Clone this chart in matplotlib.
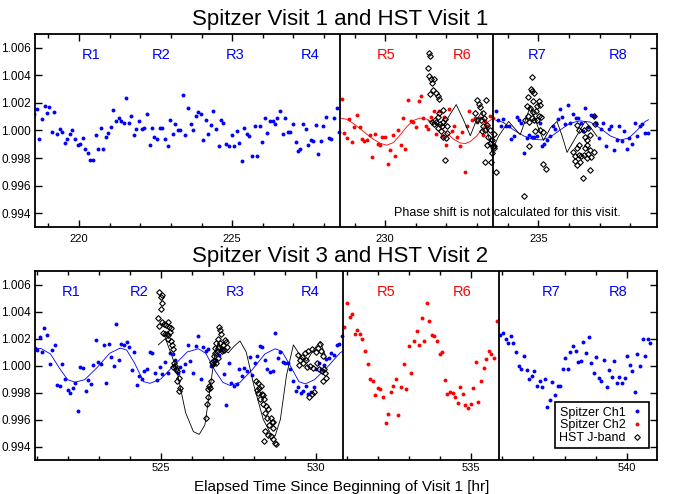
import numpy as np
import matplotlib.pyplot as plt
from matplotlib.ticker import MultipleLocator, FormatStrFormatter

plt.rcParams['font.family'] = ['Liberation Sans', 'DejaVu Sans']

# ---- Spitzer Visit 1 / HST Visit 1 ----
v1_ch1a_t = [218.54, 218.61, 218.69, 218.78, 218.87, 218.95, 219.03, 219.12, 219.19, 219.28,
             219.37, 219.45, 219.54, 219.62, 219.70, 219.78, 219.87, 219.95, 220.04, 220.12,
             220.20, 220.29, 220.37, 220.46, 220.54, 220.62, 220.71, 220.79, 220.87, 220.96,
             221.04, 221.12, 221.21, 221.29, 221.37, 221.46, 221.54, 221.62, 221.71, 221.79,
             221.87, 221.96, 222.05, 222.12, 222.21, 222.30, 222.38, 222.46, 222.55, 222.63,
             222.72, 222.80, 222.89, 222.97, 223.06, 223.14, 223.22, 223.31, 223.39, 223.47,
             223.56, 223.64, 223.72, 223.81, 223.90, 223.97, 224.06, 224.14, 224.22, 224.31,
             224.39, 224.47, 224.56, 224.64, 224.71, 224.81, 224.90, 224.98, 225.06, 225.15,
             225.23, 225.31, 225.40, 225.48, 225.56, 225.65, 225.73, 225.82, 225.90, 225.98,
             226.07, 226.15, 226.23, 226.32, 226.40, 226.48, 226.57, 226.65, 226.73, 226.82,
             226.90, 226.98, 227.07, 227.15, 227.23, 227.32, 227.40, 227.48, 227.57, 227.65,
             227.74, 227.82, 227.90, 227.98, 228.07, 228.16, 228.23, 228.32, 228.41, 228.48]
v1_ch1a_f = [1.00119, 1.00155, 0.99939, 1.00082, 1.00177, 1.00124, 1.00172, 0.99988, 1.00136, 0.99976,
             1.00012, 0.99988, 0.99908, 0.99937, 0.99978, 1.00005, 0.99935, 0.99893, 0.99903, 0.99944,
             0.99869, 0.99835, 0.99787, 0.99789, 0.99964, 0.99867, 1.00019, 0.99867, 0.99952, 0.99983,
             1.00027, 1.00148, 1.00070, 1.00092, 1.00068, 1.00053, 1.00235, 1.00051, 1.00104, 0.99966,
             1.00010, 1.00070, 1.00012, 1.00015, 1.00119, 0.99896, 1.00019, 0.99952, 0.99939, 1.00019,
             1.00019, 0.99937, 0.99886, 1.00078, 0.99973, 1.00046, 1.00005, 1.00005, 1.00255, 0.99966,
             1.00160, 1.00044, 1.00005, 1.00102, 1.00131, 1.00119, 0.99932, 1.00078, 0.99973, 1.00041,
             1.00138, 1.00012, 0.99884, 1.00075, 1.00051, 0.99905, 0.99886, 0.99966, 0.99886, 0.99993,
             0.99910, 0.99782, 1.00017, 0.99973, 0.99959, 0.99818, 1.00032, 0.99818, 1.00032, 0.99913,
             1.00090, 0.99985, 1.00068, 1.00068, 1.00046, 1.00092, 1.00145, 0.99971, 1.00090, 0.99990,
             0.99990, 1.00048, 0.99913, 0.99850, 0.99864, 1.00046, 1.00012, 0.99898, 0.99930, 0.99922,
             1.00041, 0.99830, 0.99927, 1.00032, 1.00095, 0.99944, 0.99939, 1.00092, 1.00165, 0.99988]

v1_ch2_t = [228.58, 228.66, 228.74, 228.82, 228.91, 228.99, 229.07, 229.16, 229.25, 229.32,
            229.41, 229.50, 229.57, 229.66, 229.75, 229.83, 229.91, 230.00, 230.08, 230.16,
            230.25, 230.32, 230.41, 230.50, 230.57, 230.66, 230.75, 230.83, 230.91, 231.00,
            231.09, 231.16, 231.25, 231.34, 231.41, 231.50, 231.59, 231.66, 231.75, 231.84,
            231.91, 232.00, 232.09, 232.17, 232.25, 232.34, 232.43, 232.50, 232.59, 232.68,
            232.75, 232.84, 232.93, 233.00, 233.09, 233.18, 233.25, 233.34, 233.43, 233.51]
v1_ch2_f = [1.00228, 0.99981, 0.99942, 1.00082, 0.99913, 1.00024, 1.00109, 1.00024, 0.99935, 0.99922,
            0.99930, 0.99964, 0.99806, 0.99976, 0.99901, 0.99893, 0.99952, 0.99956, 0.99760, 0.99859,
            0.99966, 0.99816, 1.00002, 0.99898, 1.00087, 0.99867, 1.00218, 1.00068, 1.00065, 1.00024,
            1.00216, 1.00247, 1.00090, 1.00029, 1.00012, 1.00099, 1.00145, 0.99976, 1.00138, 0.99961,
            1.00099, 0.99898, 1.00158, 0.99998, 1.00029, 0.99952, 0.99884, 0.99990, 0.99702, 1.00032,
            1.00143, 1.00078, 1.00092, 1.00063, 1.00087, 0.99964, 1.00070, 1.00029, 1.00107, 1.00090]

v1_ch1b_t = [233.61, 233.70, 233.79, 233.86, 233.95, 234.04, 234.12, 234.20, 234.29, 234.37,
             234.45, 234.54, 234.62, 234.70, 234.79, 234.87, 234.95, 235.04, 235.13, 235.20,
             235.29, 235.38, 235.47, 235.54, 235.63, 235.72, 235.79, 235.88, 235.97, 236.04,
             236.13, 236.22, 236.29, 236.38, 236.47, 236.54, 236.63, 236.72, 236.81, 236.88,
             236.97, 237.06, 237.13, 237.22, 237.31, 237.39, 237.47, 237.56, 237.64, 237.73,
             237.81, 237.89, 237.98, 238.07, 238.15, 238.23, 238.32, 238.40, 238.48, 238.57]
v1_ch1b_f = [1.00143, 1.00078, 1.00036, 1.00082, 1.00029, 1.00036, 0.99939, 0.99961, 1.00095, 1.00073,
             1.00056, 0.99838, 0.99947, 0.99968, 0.99956, 0.99956, 0.99961, 1.00053, 0.99884, 0.99903,
             0.99932, 0.99961, 1.00034, 1.00012, 1.00082, 1.00153, 1.00097, 1.00046, 1.00184, 1.00051,
             1.00121, 1.00090, 1.00090, 1.00053, 0.99993, 1.00160, 1.00022, 1.00109, 1.00107, 1.00053,
             0.99944, 1.00012, 1.00053, 0.99888, 1.00012, 1.00029, 0.99859, 0.99932, 1.00036, 0.99927,
             0.99998, 0.99869, 0.99949, 0.99901, 1.00053, 0.99961, 1.00029, 1.00048, 0.99981, 0.99981]

v1_hst_t = [231.39, 231.44, 231.47, 231.42, 231.49, 231.60, 231.52, 231.56, 231.45, 231.66,
            231.72, 231.76, 231.52, 231.61, 231.66, 231.71, 231.75, 231.79, 231.86, 231.90,
            231.96, 231.83, 231.90, 231.99, 231.95, 232.03, 231.58, 231.74, 231.88, 232.01,
            232.99, 233.05, 233.08, 233.29, 232.94, 233.12, 233.21, 233.27, 233.32, 232.99,
            233.16, 233.37, 233.43, 233.48, 233.54, 233.32, 233.48, 233.27, 233.45, 233.61,
            233.54, 233.41, 233.52, 233.56, 233.19, 233.23,
            234.81, 234.76, 234.81, 234.87, 234.67, 234.84, 235.01, 235.04, 234.95, 234.63,
            234.74, 234.82, 234.91, 234.66, 234.79, 235.01, 235.08, 234.95, 234.87, 234.71,
            234.90, 235.04, 235.17, 234.69, 235.17, 235.24, 234.52, 234.57,
            236.26, 236.32, 236.50, 236.64, 236.81, 236.84, 236.53, 236.59, 236.70, 236.59,
            236.51, 236.70, 236.81, 236.32, 236.26, 236.21, 236.32, 236.39, 236.50, 236.61,
            236.26, 236.21, 236.37, 236.72, 236.59, 236.45, 236.70, 236.15]
v1_hst_f = [1.00453, 1.00565, 1.00543, 1.00398, 1.00373, 1.00373, 1.00344, 1.00296, 1.00264, 1.00271,
            1.00247, 1.00230, 1.00065, 1.00078, 1.00058, 1.00097, 1.00126, 1.00048, 1.00029, 1.00150,
            1.00082, 0.99993, 0.99956, 0.99944, 0.99787, 1.00029, 1.00048, 1.00017, 1.00065, 0.99981,
            1.00218, 1.00194, 1.00170, 1.00223, 1.00126, 1.00078, 1.00029, 1.00005, 1.00041, 1.00078,
            0.99993, 0.99956, 0.99908, 0.99932, 0.99884, 0.99896, 0.99835, 0.99775, 0.99775, 0.99702,
            0.99976, 1.00005, 0.99888, 0.99872, 1.00126, 1.00090,
            1.00385, 1.00303, 1.00288, 1.00271, 1.00240, 1.00216, 1.00211, 1.00187, 1.00179, 1.00175,
            1.00162, 1.00133, 1.00138, 1.00102, 1.00090, 1.00107, 1.00095, 1.00078, 1.00078, 1.00065,
            0.99993, 1.00005, 0.99990, 0.99888, 0.99758, 0.99719, 0.99527, 1.00078,
            1.00041, 1.00005, 1.00005, 1.00017, 1.00107, 1.00046, 0.99956, 0.99932, 0.99968, 0.99896,
            0.99872, 0.99859, 0.99847, 0.99896, 0.99872, 0.99816, 0.99823, 0.99816, 0.99823, 0.99830,
            0.99750, 0.99782, 0.99775, 0.99811, 0.99799, 0.99658, 0.99714, 0.99847]

# model curves, visit 1
v1_ch2_model_t = [228.50, 228.74, 229.02, 229.29, 229.56, 229.83, 230.05, 230.27, 230.49, 230.71,
                  230.92, 231.14, 231.36, 231.58, 231.79, 232.01, 232.23, 232.45, 232.61, 232.78,
                  232.99, 233.21, 233.37, 233.52]
v1_ch2_model_f = [1.00090, 1.00082, 1.00041, 0.99993, 0.99944, 0.99908, 0.99893, 0.99913, 0.99968, 1.00029,
                  1.00073, 1.00090, 1.00082, 1.00058, 1.00024, 0.99981, 0.99937, 0.99910, 0.99905, 0.99920,
                  0.99960, 1.00024, 1.00065, 1.00087]
v1_ch1_model_t = [233.61, 233.86, 234.19, 234.52, 234.84, 235.12, 235.39, 235.72, 236.04, 236.37,
                  236.70, 237.02, 237.35, 237.68, 237.95, 238.22, 238.49, 238.60]
v1_ch1_model_f = [1.00075, 1.00058, 1.00005, 0.99961, 0.99935, 0.99932, 0.99952, 1.00005, 1.00053, 1.00070,
                  1.00061, 1.00017, 0.99961, 0.99932, 0.99944, 1.00000, 1.00065, 1.00078]
v1_hst_model_t = [231.40, 231.65, 231.90, 232.10, 232.32, 232.55, 232.78, 232.97, 233.16, 233.32,
                  233.48, 233.70, 234.03, 234.41, 234.74, 235.00, 235.17, 235.40, 235.61, 235.78,
                  235.94, 236.25, 236.53, 236.75, 236.92]
v1_hst_model_f = [1.00070, 1.00050, 1.00035, 1.00110, 1.00188, 1.00080, 0.99962, 1.00070, 1.00139, 1.00010,
                  0.99848, 0.99957, 1.00066, 0.99969, 1.00175, 1.00020, 0.99928, 1.00020, 1.00066, 0.99960,
                  0.99841, 0.99960, 1.00066, 1.00010, 0.99957]

# ---- Spitzer Visit 3 / HST Visit 2 ----
v3_ch1a_t = [520.95, 521.01, 521.10, 521.16, 521.25, 521.34, 521.42, 521.50, 521.58, 521.66,
             521.74, 521.83, 521.92, 522.00, 522.08, 522.16, 522.25, 522.32, 522.41, 522.50,
             522.58, 522.66, 522.74, 522.83, 522.91, 522.99, 523.07, 523.16, 523.24, 523.32,
             523.41, 523.48, 523.57, 523.65, 523.73, 523.82, 523.90, 523.98, 524.06, 524.15,
             524.22, 524.31, 524.39, 524.47, 524.56, 524.64, 524.72, 524.80, 524.89, 524.96,
             525.05, 525.14, 525.22, 525.30, 525.38, 525.46, 525.54, 525.63, 525.71, 525.79,
             525.88, 525.95, 526.04, 526.12, 526.20, 526.28, 526.37, 526.44, 526.53, 526.62,
             526.70, 526.78, 526.86, 526.95, 527.02, 527.11, 527.20, 527.27, 527.36, 527.44,
             527.53, 527.60, 527.69, 527.78, 527.86, 527.94, 528.02, 528.10, 528.18, 528.27,
             528.35, 528.43, 528.52, 528.60, 528.68, 528.76, 528.84, 528.92, 529.01, 529.10,
             529.17, 529.26, 529.34, 529.43, 529.50, 529.59, 529.68, 529.75, 529.84, 529.92,
             530.00, 530.08, 530.17, 530.24, 530.33, 530.42, 530.49, 530.58, 530.66, 530.75,
             530.83]
v3_ch1a_f = [1.00128, 1.00116, 1.00208, 1.00097, 1.00275, 1.00225, 1.00010, 1.00116, 1.00155, 0.99855,
             0.99845, 1.00012, 0.99899, 0.99821, 0.99795, 0.99833, 0.99874, 0.99664, 0.99988, 0.99981,
             0.99814, 0.99891, 0.99865, 1.00005, 1.00186, 1.00024, 1.00014, 1.00152, 0.99870, 1.00159,
             1.00063, 0.99993, 1.00304, 1.00039, 1.00159, 1.00152, 1.00176, 1.00138, 0.99966, 1.00097,
             0.99855, 0.99923, 0.99901, 0.99959, 0.99971, 1.00099, 1.00092, 0.99947, 0.99891, 0.99986,
             0.99940, 1.00029, 0.99942, 1.00092, 1.00087, 1.00039, 0.99947, 0.99988, 0.99959, 1.00012,
             1.00152, 1.00036, 0.99947, 1.00147, 1.00222, 0.99901, 1.00140, 1.00109, 1.00121, 0.99995,
             1.00012, 1.00043, 1.00080, 1.00121, 0.99935, 0.99710, 1.00022, 0.99867, 0.99850, 0.99862,
             0.99971, 0.99923, 0.99983, 0.99959, 1.00063, 0.99930, 1.00019, 1.00068, 1.00145, 1.00140,
             1.00043, 0.99971, 0.99954, 0.99959, 1.00239, 1.00058, 1.00097, 1.00029, 1.00019, 1.00019,
             0.99971, 0.99886, 0.99809, 0.99838, 0.99795, 0.99814, 0.99850, 0.99790, 0.99802, 0.99838,
             0.99971, 1.00019, 0.99971, 1.00007, 1.00048, 1.00056, 1.00092, 1.00077, 1.00152, 1.00162,
             1.00217]

v3_ch2_t = [530.91, 530.99, 531.08, 531.16, 531.24, 531.33, 531.41, 531.49, 531.58, 531.66,
            531.74, 531.82, 531.91, 531.98, 532.07, 532.16, 532.24, 532.32, 532.40, 532.49,
            532.57, 532.65, 532.74, 532.82, 532.91, 532.98, 533.07, 533.15, 533.24, 533.33,
            533.40, 533.49, 533.57, 533.65, 533.73, 533.81, 533.89, 533.98, 534.07, 534.15,
            534.23, 534.31, 534.40, 534.47, 534.56, 534.65, 534.73, 534.81, 534.89, 534.98,
            535.06, 535.14, 535.23, 535.31, 535.40, 535.47, 535.56, 535.64, 535.73, 535.82]
v3_ch2_f = [1.00285, 1.00466, 1.00362, 1.00382, 1.00237, 1.00261, 1.00232, 1.00193, 1.00109, 1.00012,
            0.99899, 0.99886, 0.99778, 0.99831, 0.99826, 0.99766, 0.99577, 0.99640, 0.99802, 0.99850,
            0.99899, 0.99633, 0.99843, 1.00012, 0.99826, 1.00145, 0.99942, 1.00184, 1.00254, 1.00152,
            1.00353, 1.00184, 1.00461, 1.00326, 1.00225, 1.00217, 1.00181, 1.00087, 1.00097, 0.99889,
            0.99790, 0.99807, 0.99797, 0.99766, 0.99725, 0.99838, 0.99787, 0.99705, 0.99688, 0.99717,
            0.99831, 1.00024, 0.99730, 0.99884, 0.99978, 1.00051, 1.00111, 1.00085, 1.00056, 1.00333]

v3_ch1b_t = [535.92, 536.01, 536.10, 536.18, 536.27, 536.35, 536.44, 536.52, 536.61, 536.70,
             536.78, 536.87, 536.94, 537.03, 537.11, 537.20, 537.28, 537.36, 537.45, 537.52,
             537.61, 537.69, 537.78, 537.87, 537.94, 538.03, 538.11, 538.19, 538.27, 538.36,
             538.45, 538.52, 538.61, 538.69, 538.78, 538.85, 538.94, 539.02, 539.10, 539.19,
             539.27, 539.36, 539.43, 539.52, 539.60, 539.69, 539.77, 539.85, 539.94, 540.02,
             540.10, 540.18, 540.27, 540.35, 540.43, 540.52, 540.60, 540.68, 540.76]
v3_ch1b_f = [1.00229, 1.00244, 1.00200, 1.00164, 1.00217, 1.00164, 1.00097, 0.99995, 0.99976, 1.00068,
             0.99964, 0.99899, 0.99923, 0.99959, 0.99850, 0.99882, 0.99838, 0.99899, 0.99693, 0.99746,
             0.99879, 0.99783, 0.99850, 0.99845, 0.99971, 1.00056, 0.99976, 1.00097, 1.00145, 1.00104,
             1.00024, 1.00031, 1.00174, 1.00092, 1.00213, 1.00019, 0.99942, 1.00063, 0.99911, 0.99886,
             1.00043, 0.99838, 0.99966, 0.99918, 1.00031, 0.99870, 0.99918, 0.99874, 0.99906, 1.00068,
             1.00002, 0.99961, 0.99807, 1.00085, 0.99995, 1.00193, 1.00068, 1.00193, 1.00164]

v3_hst_t = [524.95, 525.00, 525.05, 525.03, 525.01, 524.92, 524.95, 525.05, 525.11, 525.17,
            525.22, 525.28, 525.32, 525.08, 525.14, 525.19, 525.24, 525.30, 525.22, 525.33,
            525.35, 525.40, 525.44, 525.46, 525.49, 525.53, 525.58, 525.53, 525.59, 525.62, 525.40,
            526.44, 526.48, 526.53, 526.51, 526.56, 526.58, 526.61, 526.64, 526.67, 526.70,
            526.72, 526.76, 526.80, 526.85, 526.91, 526.96, 526.78, 526.85, 526.88, 526.91,
            526.93, 527.01, 527.05, 527.10, 527.14, 527.07, 526.98, 526.84, 526.77, 526.75,
            528.07, 528.12, 528.17, 528.22, 528.09, 528.14, 528.25, 528.30, 528.19, 528.33,
            528.28, 528.39, 528.44, 528.35, 528.41, 528.54, 528.57, 528.49, 528.62, 528.35,
            528.46, 528.54, 528.62, 528.68, 528.71, 528.32, 528.60,
            529.41, 529.54, 529.64, 529.75, 529.88, 530.00, 530.07, 530.13, 530.15, 530.21,
            529.59, 529.70, 529.80, 529.91, 530.02, 530.10, 530.18, 530.25, 530.29, 530.32,
            530.23, 529.78, 529.86, 529.94, 529.48, 529.45, 529.67]
v3_hst_f = [1.00546, 1.00510, 1.00522, 1.00466, 1.00418, 1.00350, 1.00290, 1.00321, 1.00309, 1.00297,
            1.00321, 1.00285, 1.00278, 1.00242, 1.00232, 1.00237, 1.00225, 1.00249, 1.00200, 1.00184,
            1.00152, 1.00121, 1.00019, 0.99995, 0.99976, 0.99959, 0.99911, 0.99886, 0.99814, 0.99831, 0.99990,
            0.99609, 0.99717, 0.99766, 0.99826, 0.99845, 0.99831, 0.99886, 1.00024, 1.00014, 1.00068,
            1.00031, 1.00092, 1.00104, 1.00133, 1.00164, 1.00123, 1.00164, 1.00200, 1.00285, 1.00261,
            1.00237, 1.00152, 1.00116, 1.00176, 1.00140, 1.00188, 1.00111, 1.00056, 1.00019, 1.00128,
            0.99886, 0.99870, 0.99831, 0.99850, 0.99819, 0.99797, 0.99790, 0.99778, 0.99754, 0.99754,
            0.99717, 0.99701, 0.99681, 0.99645, 0.99609, 0.99609, 0.99585, 0.99560, 0.99585, 0.99512,
            0.99488, 0.99476, 0.99452, 0.99428, 0.99416, 0.99440, 0.99536,
            1.00080, 1.00063, 1.00092, 1.00104, 1.00121, 1.00097, 1.00128, 1.00157, 1.00104, 1.00068,
            1.00019, 0.99990, 1.00000, 0.99983, 1.00019, 0.99971, 0.99959, 0.99976, 0.99947, 0.99911,
            0.99886, 0.99766, 0.99790, 0.99807, 1.00043, 1.00007, 1.00043]

# model curves, visit 3
v3_ch1_model_t = [520.95, 521.15, 521.45, 521.75, 522.00, 522.24, 522.55, 522.95, 523.35, 523.69,
                  523.90, 524.15, 524.45, 524.65, 525.00, 525.40, 525.85, 526.21, 526.45, 526.75,
                  527.00, 527.23, 527.55, 527.95, 528.35, 528.68, 528.90, 529.20, 529.45, 529.65,
                  529.95, 530.35, 530.77, 530.85]
v3_ch1_model_f = [1.00129, 1.00125, 1.00085, 0.99975, 0.99895, 0.99876, 0.99895, 0.99985, 1.00090, 1.00129,
                  1.00115, 1.00020, 0.99880, 0.99868, 0.99900, 0.99995, 1.00100, 1.00124, 1.00090, 0.99960,
                  0.99875, 0.99852, 0.99875, 0.99970, 1.00085, 1.00124, 1.00105, 0.99985, 0.99880, 0.99864,
                  0.99895, 0.99985, 1.00093, 1.00105]
v3_hst_model_t = [524.92, 525.15, 525.50, 525.80, 526.05, 526.24, 526.42, 526.60, 526.75, 526.85,
                  527.00, 527.17, 527.35, 527.55, 527.75, 528.00, 528.30, 528.55, 528.68, 528.85,
                  529.05, 529.27, 529.50, 529.70, 529.90, 530.13, 530.29]
v3_hst_model_f = [1.00153, 1.00200, 0.99980, 0.99650, 0.99510, 0.99490, 0.99560, 0.99850, 1.00100, 1.00166,
                  1.00125, 1.00093, 1.00140, 1.00182, 1.00100, 0.99850, 0.99600, 0.99490, 0.99478, 0.99600,
                  0.99930, 1.00153, 1.00070, 1.00033, 1.00110, 1.00178, 1.00081]

region_names = ['R1', 'R2', 'R3', 'R4', 'R5', 'R6', 'R7', 'R8']
region_colors = ['blue', 'blue', 'blue', 'blue', 'red', 'red', 'blue', 'blue']
v1_region_x = [0.090, 0.202, 0.322, 0.443, 0.564, 0.686, 0.807, 0.938]
v3_region_x = [0.058, 0.168, 0.322, 0.443, 0.564, 0.686, 0.829, 0.938]

BLUE = '#0000ff'
RED = '#ff0000'

fig = plt.figure(figsize=(6.84, 4.94), dpi=100)
ax1 = fig.add_axes([0.0512, 0.5405, 0.9094, 0.3907])
ax2 = fig.add_axes([0.0512, 1 - 460 / 494, 0.9094, (460 - 271) / 494])


def style(ax, xlim, xpad):
    ax.set_xlim(xlim)
    ax.set_ylim(0.993, 1.007)
    ax.set_yticks([0.994, 0.996, 0.998, 1.000, 1.002, 1.004, 1.006])
    ax.yaxis.set_major_formatter(FormatStrFormatter('%.3f'))
    ax.xaxis.set_major_locator(MultipleLocator(5))
    ax.xaxis.set_minor_locator(MultipleLocator(1))
    ax.tick_params(which='both', direction='in', top=True, right=True, width=1.0)
    ax.tick_params(which='major', length=5)
    ax.tick_params(which='minor', length=3)
    ax.tick_params(axis='x', labelsize=8, pad=xpad)
    ax.tick_params(axis='y', labelsize=8.5, pad=3)
    for s in ax.spines.values():
        s.set_linewidth(1.3)


def dots(ax, t, f, color, label=None):
    assert len(t) == len(f)
    ax.plot(t, f, 'o', ms=2.8, mfc=color, mec=color, mew=0, label=label)


def diamonds(ax, t, f, label=None):
    assert len(t) == len(f)
    ax.plot(t, f, 'D', ms=2.9, mfc='none', mec='black', mew=0.8, label=label)


# top panel
style(ax1, (218.56, 238.88), 5)
dots(ax1, v1_ch1a_t, v1_ch1a_f, BLUE)
dots(ax1, v1_ch2_t, v1_ch2_f, RED)
dots(ax1, v1_ch1b_t, v1_ch1b_f, BLUE)
ax1.plot(v1_ch2_model_t, v1_ch2_model_f, color=RED, lw=0.6)
ax1.plot(v1_ch1_model_t, v1_ch1_model_f, color=BLUE, lw=0.6)
ax1.plot(v1_hst_model_t, v1_hst_model_f, color='black', lw=0.6)
diamonds(ax1, v1_hst_t, v1_hst_f)
for xv in (228.52, 233.52):
    ax1.axvline(xv, color='black', lw=1.3)
for name, c, xf in zip(region_names, region_colors, v1_region_x):
    ax1.text(xf, 0.89, name, color=c, fontsize=10.5, ha='center', va='center',
             transform=ax1.transAxes)
ax1.text(0.760, 0.073, 'Phase shift is not calculated for this visit.',
         fontsize=9, ha='center', va='center', transform=ax1.transAxes)

# bottom panel
style(ax2, (520.95, 540.98), 2.5)
dots(ax2, v3_ch1a_t, v3_ch1a_f, BLUE, label='Spitzer Ch1')
dots(ax2, v3_ch2_t, v3_ch2_f, RED, label='Spitzer Ch2')
dots(ax2, v3_ch1b_t, v3_ch1b_f, BLUE)
ax2.plot(v3_ch1_model_t, v3_ch1_model_f, color=BLUE, lw=0.6)
ax2.plot(v3_hst_model_t, v3_hst_model_f, color='black', lw=0.6)
diamonds(ax2, v3_hst_t, v3_hst_f, label='HST J-band')
for xv in (530.88, 535.88):
    ax2.axvline(xv, color='black', lw=1.3)
for name, c, xf in zip(region_names, region_colors, v3_region_x):
    ax2.text(xf, 0.89, name, color=c, fontsize=10.5, ha='center', va='center',
             transform=ax2.transAxes)

leg = ax2.legend(loc='lower right', bbox_to_anchor=(0.987, 0.062), borderaxespad=0,
                 markerfirst=False, fontsize=9, fancybox=False, framealpha=1,
                 handlelength=1.2, handletextpad=0.3, labelspacing=0.05,
                 borderpad=0.35, markerscale=1.0)
leg.get_frame().set_edgecolor('black')
leg.get_frame().set_linewidth(1.2)

fig.text(0.497, 1 - 24.5 / 494, 'Spitzer Visit 1 and HST Visit 1', fontsize=16,
         ha='center', va='baseline')
fig.text(0.497, 1 - 262 / 494, 'Spitzer Visit 3 and HST Visit 2', fontsize=16,
         ha='center', va='baseline')
fig.text(0.5, 0.0, 'Elapsed Time Since Beginning of Visit 1 [hr]', fontsize=11,
         ha='center', va='bottom')

fig.savefig('out.png', dpi=100)
